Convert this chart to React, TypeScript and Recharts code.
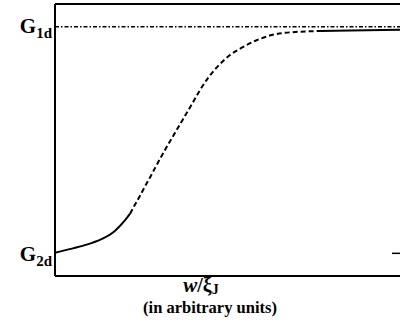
import React from 'react'
import { LineChart, Line, XAxis, YAxis, ReferenceLine } from 'recharts'

// curve, split where the line style changes
const lowSolid = [
  { x: 0, g: 0.003 }, { x: 0.52, g: 0.022 }, { x: 1.01, g: 0.043 },
  { x: 1.39, g: 0.066 }, { x: 1.73, g: 0.099 }, { x: 2.02, g: 0.145 },
  { x: 2.17, g: 0.175 },
]
const midDashed = [
  { x: 2.17, g: 0.175 }, { x: 2.31, g: 0.214 }, { x: 2.46, g: 0.255 },
  { x: 2.6, g: 0.295 }, { x: 2.75, g: 0.336 }, { x: 2.89, g: 0.376 },
  { x: 3.09, g: 0.432 }, { x: 3.38, g: 0.509 }, { x: 3.55, g: 0.553 },
  { x: 3.7, g: 0.592 }, { x: 3.96, g: 0.659 }, { x: 4.19, g: 0.72 },
  { x: 4.42, g: 0.773 }, { x: 4.71, g: 0.826 }, { x: 5.06, g: 0.875 },
  { x: 5.43, g: 0.91 }, { x: 5.84, g: 0.941 }, { x: 6.59, g: 0.972 },
  { x: 7.66, g: 0.981 },
]
const highSolid = [
  { x: 7.66, g: 0.981 }, { x: 8.53, g: 0.983 }, { x: 10, g: 0.987 },
]
const yTicks = [0, 1]
const yTickSubs: Record<number, string> = { 0: '2d', 1: '1d' }

const SERIF = 'Liberation Serif, DejaVu Serif, Times, serif'

const GTick = (props: any) => {
  const { y, payload } = props
  const v = payload.value
  const base = v === 1 ? y + 6 : y + 8
  return (
    <text x={52} y={base} textAnchor="end" fontFamily={SERIF} fontWeight="bold" fill="#000">
      <tspan fontFamily={SERIF} fontSize={21}>G</tspan>
      <tspan fontFamily={SERIF} fontSize={15} dy={5}>{yTickSubs[v]}</tspan>
    </text>
  )
}

const XLabel = () => (
  <g fill="#000">
    <text x={201} y={292} textAnchor="middle" fontFamily={SERIF} fontWeight="bold">
      <tspan fontFamily={SERIF} fontSize={21} fontStyle="italic">w</tspan>
      <tspan fontFamily={SERIF} fontSize={20}>/ξ</tspan>
      <tspan fontFamily={SERIF} fontSize={14} dy={2}>J</tspan>
    </text>
    <text x={210} y={313} textAnchor="middle" fontFamily={SERIF} fontWeight="bold" fontSize={16.5}>(in arbitrary units)</text>
  </g>
)

export default function App() {
  return (
    <div style={{ position: 'absolute', left: 0, top: 0, width: 400, height: 333, overflow: 'hidden', background: '#fff', fontFamily: SERIF }}>
      <LineChart width={402} height={333} margin={{ top: 4, right: 1, left: 0, bottom: 0 }} style={{ fontFamily: SERIF }}>
        <XAxis
          type="number" dataKey="x" domain={[0, 10]} height={57}
          tick={false} tickLine={false}
          axisLine={{ stroke: '#000', strokeWidth: 2 }}
          label={<XLabel />}
        />
        <YAxis
          type="number" domain={[-0.1, 1.1]} ticks={yTicks} width={55}
          tickLine={false} tick={<GTick />}
          axisLine={{ stroke: '#000', strokeWidth: 2 }}
        />
        <ReferenceLine y={1.1} stroke="#000" strokeWidth={2} />
        <ReferenceLine y={1} stroke="#000" strokeWidth={1.5} strokeDasharray="4 2 1.5 2" />
        <ReferenceLine segment={[{ x: 9.74, y: 0 }, { x: 10, y: 0 }]} stroke="#000" strokeWidth={1.5} />
        <Line data={lowSolid} dataKey="g" type="monotone" stroke="#000" strokeWidth={2} dot={false} isAnimationActive={false} />
        <Line data={midDashed} dataKey="g" type="monotone" stroke="#000" strokeWidth={2} strokeDasharray="5 3" dot={false} isAnimationActive={false} />
        <Line data={highSolid} dataKey="g" type="monotone" stroke="#000" strokeWidth={2} dot={false} isAnimationActive={false} />
      </LineChart>
    </div>
  )
}
